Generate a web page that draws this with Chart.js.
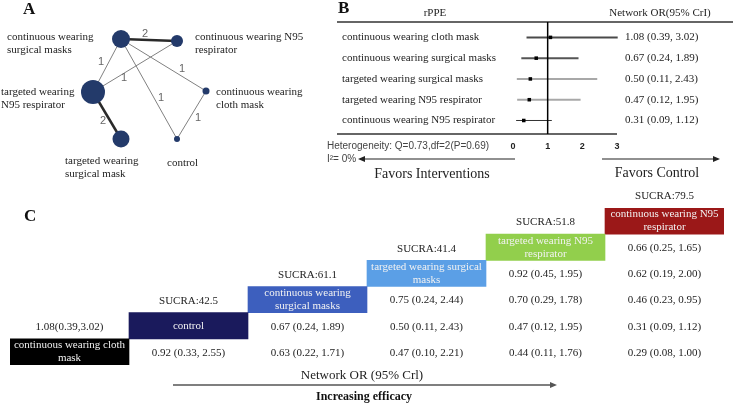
<!DOCTYPE html>
<html>
<head>
<meta charset="utf-8">
<script src="https://cdn.jsdelivr.net/npm/chart.js@4.4.1/dist/chart.umd.min.js"></script>
<style>
  html, body { margin: 0; padding: 0; background: #fff; }
  #wrap { position: relative; width: 740px; height: 404px; overflow: hidden; }
  canvas { position: absolute; }
</style>
</head>
<body>
<div id="wrap">
  <canvas id="netChart" width="320" height="190" style="left:0;top:0"></canvas>
  <canvas id="forestChart" width="460" height="190" style="left:280px;top:0"></canvas>
  <canvas id="leagueChart" width="740" height="214" style="left:0;top:190px"></canvas>
</div>
<script>
// ---- A: network of comparisons
const nodeNames = ['continuous wearing surgical masks', 'continuous wearing N95 respirator', 'targeted wearing N95 respirator',
  'continuous wearing cloth mask', 'targeted wearing surgical mask', 'control'];
const nodeWeight = [9, 6, 12, 3.5, 8.5, 3];
const edgeFrom = [0, 0, 2, 0, 0, 3, 2];
const edgeTo = [1, 2, 1, 3, 5, 5, 4];
const edgeStudies = [2, 1, 1, 1, 1, 1, 2];

// ---- B: forest plot vs control
const forestLabels = ['continuous wearing cloth mask', 'continuous wearing surgical masks', 'targeted wearing surgical masks',
  'targeted wearing N95 respirator', 'continuous wearing N95 respirator'];
const forestOR = [1.08, 0.67, 0.50, 0.47, 0.31];
const forestLow = [0.39, 0.24, 0.11, 0.12, 0.09];
const forestHigh = [3.02, 1.89, 2.43, 1.95, 1.12];
const forestTicks = [0, 1, 2, 3];

// ---- C: league table, treatments ordered left to right
const leagueNames = ['continuous wearing cloth mask', 'control', 'continuous wearing surgical masks',
  'targeted wearing surgical masks', 'targeted wearing N95 respirator', 'continuous wearing N95 respirator'];
const sucra = [null, 42.5, 61.1, 41.4, 51.8, 79.5];
const leagueOR = [[1.08], [0.92], [0.67, 0.63], [0.75, 0.50, 0.47], [0.92, 0.70, 0.47, 0.44], [0.66, 0.62, 0.46, 0.31, 0.29]];
const leagueLow = [[0.39], [0.33], [0.24, 0.22], [0.24, 0.11, 0.10], [0.45, 0.29, 0.12, 0.11], [0.25, 0.19, 0.23, 0.09, 0.08]];
const leagueHigh = [[3.02], [2.55], [1.89, 1.71], [2.44, 2.43, 2.21], [1.95, 1.78, 1.95, 1.76], [1.65, 2.00, 0.95, 1.12, 1.00]];
const rowLabels = ['r0', 'r1', 'r2', 'r3', 'r4', 'r5'];

// layout of the network drawing (not data)
const nodeX = [121, 177, 93, 206, 121, 177];
const nodeY = [39, 41, 92, 91, 139, 139];

const SERIF = '"Liberation Serif", "Times New Roman", serif';
const SANS = '"Liberation Sans", Arial, sans-serif';

function line(ctx, x1, y1, x2, y2) {
  ctx.beginPath(); ctx.moveTo(x1, y1); ctx.lineTo(x2, y2); ctx.stroke();
}
function arrow(ctx, x1, y, x2) {
  const dir = Math.sign(x2 - x1);
  line(ctx, x1, y, x2 - dir * 5, y);
  ctx.beginPath();
  ctx.moveTo(x2, y); ctx.lineTo(x2 - dir * 7, y - 3); ctx.lineTo(x2 - dir * 7, y + 3);
  ctx.closePath(); ctx.fill();
}
function text(ctx, s, x, y, font, color, align) {
  ctx.font = font; ctx.fillStyle = color; ctx.textAlign = align || 'left'; ctx.textBaseline = 'middle';
  ctx.fillText(s, x, y);
}
const fmt = v => v.toFixed(2);

// ---------- A
const nodeLabelLines = [['continuous wearing', 'surgical masks'], ['continuous wearing N95', 'respirator'],
  ['targeted wearing', 'N95 respirator'], ['continuous wearing', 'cloth mask'], ['targeted wearing', 'surgical mask'], ['control']];
const nodeLabelOffset = [[-114, -2], [18, -4], [-92, 0], [10, 1], [-56, 22], [-10, 24]];
const edgeLabelOffset = [[-4, -6], [-6, -3.5], [-11, 11.5], [18.5, 4], [12, 9], [6.5, 3], [-4, 5.5]];

const netText = {
  id: 'netText',
  afterDraw(chart) {
    const { ctx, scales: { x, y } } = chart;
    ctx.save();
    text(ctx, 'A', 23, 10, 'bold 17px ' + SERIF, '#111');
    nodeNames.forEach((n, i) => {
      const px = x.getPixelForValue(nodeX[i]) + nodeLabelOffset[i][0];
      const py = y.getPixelForValue(nodeY[i]) + nodeLabelOffset[i][1];
      nodeLabelLines[i].forEach((s, k) => text(ctx, s, px, py + k * 13, '11px ' + SERIF, '#222'));
    });
    edgeFrom.forEach((f, k) => {
      const t = edgeTo[k];
      const mx = (x.getPixelForValue(nodeX[f]) + x.getPixelForValue(nodeX[t])) / 2 + edgeLabelOffset[k][0];
      const my = (y.getPixelForValue(nodeY[f]) + y.getPixelForValue(nodeY[t])) / 2 + edgeLabelOffset[k][1];
      text(ctx, String(edgeStudies[k]), mx, my, '11px ' + SANS, '#666', 'center');
    });
    ctx.restore();
  }
};

new Chart(document.getElementById('netChart'), {
  type: 'bubble',
  data: {
    datasets: [
      { type: 'bubble', data: nodeNames.map((n, i) => ({ x: nodeX[i], y: nodeY[i], r: nodeWeight[i] })),
        backgroundColor: '#233a6a', borderWidth: 0, order: 0 },
      ...edgeFrom.map((f, k) => ({
        type: 'scatter', showLine: true, order: 1, pointRadius: 0,
        data: [{ x: nodeX[f], y: nodeY[f] }, { x: nodeX[edgeTo[k]], y: nodeY[edgeTo[k]] }],
        borderColor: edgeStudies[k] > 1 ? '#2a2a2a' : '#808080',
        borderWidth: edgeStudies[k] > 1 ? 2.5 : 1
      }))
    ]
  },
  options: {
    responsive: false, animation: false,
    layout: { padding: 0, autoPadding: false },
    plugins: { legend: { display: false }, tooltip: { enabled: false } },
    scales: {
      x: { type: 'linear', display: false, min: 0, max: 320 },
      y: { type: 'linear', display: false, min: 0, max: 190, reverse: true }
    }
  },
  plugins: [netText]
});

// ---------- B
const ciColors = ['#4a4a4a', '#555555', '#a8a8a8', '#a8a8a8', '#333333'];
const ciWidths = [2, 2, 2, 2, 1];

const forestText = {
  id: 'forestText',
  afterDatasetsDraw(chart) {
    const { ctx, scales: { x, y }, chartArea } = chart;
    ctx.save();
    ctx.strokeStyle = '#333'; ctx.lineWidth = 1.5;
    line(ctx, 57, chartArea.top, 453, chartArea.top);
    ctx.strokeStyle = '#666'; ctx.lineWidth = 2;
    line(ctx, 57, chartArea.bottom, x.getPixelForValue(3), chartArea.bottom);
    ctx.strokeStyle = '#000'; ctx.lineWidth = 1.5;
    line(ctx, x.getPixelForValue(1), chartArea.top, x.getPixelForValue(1), chartArea.bottom);

    text(ctx, 'B', 58, 9, 'bold 17px ' + SERIF, '#111');
    text(ctx, 'rPPE', 155, 13, '11px ' + SERIF, '#222', 'center');
    text(ctx, 'Network OR(95% CrI)', 380, 13, '11px ' + SERIF, '#222', 'center');
    forestLabels.forEach((s, i) => {
      const py = y.getPixelForValue(i);
      text(ctx, s, 62, py, '11px ' + SERIF, '#222');
      text(ctx, `${fmt(forestOR[i])} (${fmt(forestLow[i])}, ${fmt(forestHigh[i])})`, 345, py, '11px ' + SERIF, '#222');
    });

    text(ctx, 'Heterogeneity: Q=0.73,df=2(P=0.69)', 47, 146, '10px ' + SANS, '#444');
    text(ctx, 'I\u00b2= 0%', 47, 159, '10px ' + SANS, '#444');
    ctx.strokeStyle = '#222'; ctx.fillStyle = '#222'; ctx.lineWidth = 1.2;
    arrow(ctx, x.getPixelForValue(0) + 2, 159, 78);
    ctx.fillStyle = '#222';
    arrow(ctx, 322, 159, 440);
    text(ctx, 'Favors Interventions', 152, 174, '14px ' + SERIF, '#222', 'center');
    text(ctx, 'Favors Control', 377, 173, '14px ' + SERIF, '#222', 'center');
    ctx.restore();
  }
};

new Chart(document.getElementById('forestChart'), {
  type: 'scatter',
  data: {
    datasets: [
      { data: forestOR.map((v, i) => ({ x: v, y: i })), pointStyle: 'rect', pointRadius: 2.5,
        backgroundColor: '#000', borderColor: '#000', borderWidth: 0, order: 0, clip: false },
      ...forestLow.map((lo, i) => ({
        data: [{ x: lo, y: i }, { x: forestHigh[i], y: i }], showLine: true, pointRadius: 0,
        borderColor: ciColors[i], borderWidth: ciWidths[i], clip: false, order: 1
      }))
    ]
  },
  options: {
    responsive: false, animation: false,
    layout: { padding: { left: 233, right: 123, top: 22, bottom: 0 } },
    plugins: { legend: { display: false }, tooltip: { enabled: false } },
    scales: {
      x: {
        type: 'linear', min: 0, max: 3,
        afterFit: s => { s.height = 56; },
        afterBuildTicks: s => { s.ticks = forestTicks.map(v => ({ value: v })); },
        grid: { display: false, drawTicks: false }, border: { display: false },
        ticks: { padding: 7, maxRotation: 0, color: '#222', font: { family: SANS, size: 9, weight: 'bold' } }
      },
      y: { type: 'linear', display: false, min: -0.74, max: 4.65, reverse: true }
    }
  },
  plugins: [forestText]
});

// ---------- C
const boxColors = ['#000000', '#1a1a5c', '#3d5fbe', '#5b9fe6', '#92cf4c', '#9b1818'];
const boxLines = [['continuous wearing cloth', 'mask'], ['control'], ['continuous wearing', 'surgical masks'],
  ['targeted wearing surgical', 'masks'], ['targeted wearing N95', 'respirator'], ['continuous wearing N95', 'respirator']];
const lastCol = leagueNames.length - 1;

const leagueText = {
  id: 'leagueText',
  afterDatasetsDraw(chart) {
    const { ctx, scales: { x, y } } = chart;
    const band = y.getPixelForValue(1) - y.getPixelForValue(0);
    ctx.save();
    text(ctx, 'C', 24, 27, 'bold 17px ' + SERIF, '#111');
    leagueNames.forEach((n, c) => {
      const cx = x.getPixelForValue(c + 0.5);
      const boxRow = lastCol - c;
      const by = y.getPixelForValue(boxRow);
      const lines = boxLines[c];
      lines.forEach((s, k) => text(ctx, s, cx, by + (k - (lines.length - 1) / 2) * 13, '11px ' + SERIF, '#f2f2f2', 'center'));
      if (sucra[c] !== null) {
        text(ctx, 'SUCRA:' + sucra[c].toFixed(1), cx, by - band + 1.5, '11px ' + SERIF, '#222', 'center');
      }
      leagueOR[c].forEach((v, k) => {
        const lo = leagueLow[c][k], hi = leagueHigh[c][k];
        let row, s;
        if (c === 0) { row = boxRow - 1; s = `${fmt(v)}(${fmt(lo)},${fmt(hi)})`; }
        else { row = boxRow + 1 + k; s = `${fmt(v)} (${fmt(lo)}, ${fmt(hi)})`; }
        text(ctx, s, cx, y.getPixelForValue(row) + 1, '11px ' + SERIF, '#222', 'center');
      });
    });
    text(ctx, 'Network OR (95% Crl)', 362, 186, '13px ' + SERIF, '#222', 'center');
    ctx.strokeStyle = '#555'; ctx.fillStyle = '#555'; ctx.lineWidth = 1.5;
    arrow(ctx, 173, 195, 557);
    text(ctx, 'Increasing efficacy', 364, 207, 'bold 12px ' + SERIF, '#111', 'center');
    ctx.restore();
  }
};

new Chart(document.getElementById('leagueChart'), {
  type: 'bar',
  data: {
    labels: rowLabels,
    datasets: [{
      data: rowLabels.map((r, i) => [lastCol - i, lastCol - i + 1]),
      backgroundColor: rowLabels.map((r, i) => boxColors[lastCol - i]),
      borderWidth: 0, borderSkipped: false, barPercentage: 1, categoryPercentage: 1
    }]
  },
  options: {
    indexAxis: 'y', responsive: false, animation: false,
    layout: { padding: { left: 10, right: 16, top: 18, bottom: 39 } },
    plugins: { legend: { display: false }, tooltip: { enabled: false } },
    scales: {
      x: { type: 'linear', display: false, min: 0, max: 6 },
      y: { type: 'category', display: false }
    }
  },
  plugins: [leagueText]
});
</script>
</body>
</html>
